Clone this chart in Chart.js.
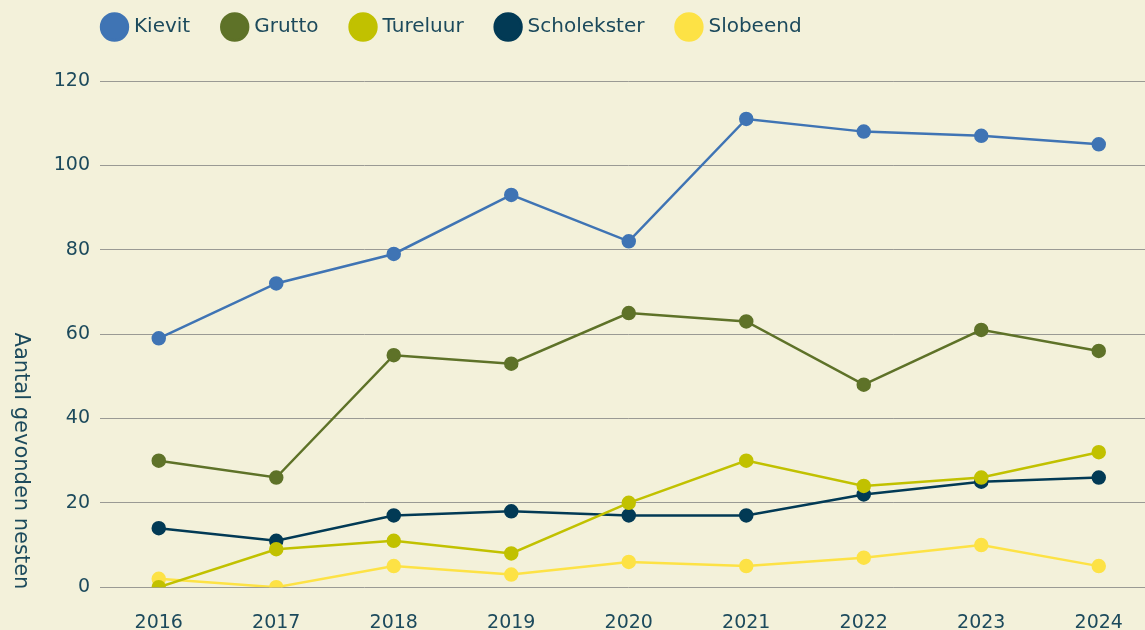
<!DOCTYPE html>
<html>
<head>
<meta charset="utf-8">
<script src="https://cdn.jsdelivr.net/npm/chart.js@4.4.1/dist/chart.umd.min.js"></script>
<style>
  html, body { margin: 0; padding: 0; background: #f3f1da; overflow: hidden; }
  #wrap { width: 1166px; height: 658px; }
</style>
</head>
<body>
<div id="wrap"><canvas id="myChart"></canvas></div>
<script>
// jaren op de x-as
const years = ['2016', '2017', '2018', '2019', '2020', '2021', '2022', '2023', '2024'];

// aantal gevonden nesten per soort
const kievit = [59, 72, 79, 93, 82, 111, 108, 107, 105];
const grutto = [30, 26, 55, 53, 65, 63, 48, 61, 56];
const tureluur = [0, 9, 11, 8, 20, 30, 24, 26, 32];
const scholekster = [14, 11, 17, 18, 17, 17, 22, 25, 26];
const slobeend = [2, 0, 5, 3, 6, 5, 7, 10, 5];

const yTitle = 'Aantal gevonden nesten';
const textColor = '#1c4a5c';
const fontFamily = '"DejaVu Sans", sans-serif';

//make one line dataset
const makeSet = (label, data, color) => ({
  label: label,
  data: data,
  borderColor: color,
  backgroundColor: color,
  pointBackgroundColor: color,
  pointBorderColor: color,
  borderWidth: 2.5,
  pointRadius: 6,
  pointHoverRadius: 6,
  tension: 0,
});

// y-as titel, gedraaid van boven naar beneden
const yTitlePlugin = {
  id: 'yTitle',
  afterDraw(chart) {
    const ctx = chart.ctx;
    ctx.save();
    ctx.translate(20, 461);
    ctx.rotate(Math.PI / 2);
    ctx.fillStyle = textColor;
    ctx.font = '21px ' + fontFamily;
    ctx.textAlign = 'center';
    ctx.textBaseline = 'middle';
    ctx.fillText(yTitle, 0, 0);
    ctx.restore();
  }
};

// extra ruimte onder de legenda
const legendSpace = {
  id: 'legendSpace',
  beforeInit(chart) {
    const fit = chart.legend.fit;
    chart.legend.fit = function () {
      fit.call(this);
      this.height += 34;
    };
  }
};

// y labels niet afknippen (as is smaller gemaakt dan de labels)
const yLabelRoom = {
  id: 'yLabelRoom',
  afterLayout(chart) {
    chart.scales.y.left = 30;
  }
};

const ctx = document.getElementById('myChart').getContext('2d');
new Chart(ctx, {
  type: 'line',
  data: {
    labels: years,
    datasets: [
      makeSet('Kievit', kievit, '#3f74b4'),
      makeSet('Grutto', grutto, '#5e7228'),
      makeSet('Tureluur', tureluur, '#c1c100'),
      makeSet('Scholekster', scholekster, '#023a55'),
      makeSet('Slobeend', slobeend, '#fde245'),
    ],
  },
  options: {
    responsive: true,
    maintainAspectRatio: false,
    animation: false,
    layout: { padding: { left: 70, top: -18, right: 0, bottom: 0 } },
    plugins: {
      tooltip: { enabled: false },
      legend: {
        position: 'top',
        align: 'start',
        labels: {
          usePointStyle: true,
          pointStyle: 'circle',
          boxWidth: 19,
          boxHeight: 19,
          padding: 35,
          color: textColor,
          font: { family: fontFamily, size: 20 },
        },
      },
    },
    scales: {
      x: {
        offset: true,
        grid: { display: false, drawTicks: false },
        border: { display: false },
        ticks: {
          color: textColor,
          padding: 24,
          font: { family: fontFamily, size: 19 },
          maxRotation: 0,
        },
      },
      y: {
        min: 0,
        max: 120,
        afterFit: (scale) => { scale.width = 30; },
        grid: { color: '#9a9a94', lineWidth: 1, drawTicks: false },
        border: { display: false },
        ticks: {
          stepSize: 20,
          color: textColor,
          padding: 10,
          font: { family: fontFamily, size: 19 },
        },
      },
    },
  },
  plugins: [yTitlePlugin, legendSpace, yLabelRoom],
});
</script>
</body>
</html>
